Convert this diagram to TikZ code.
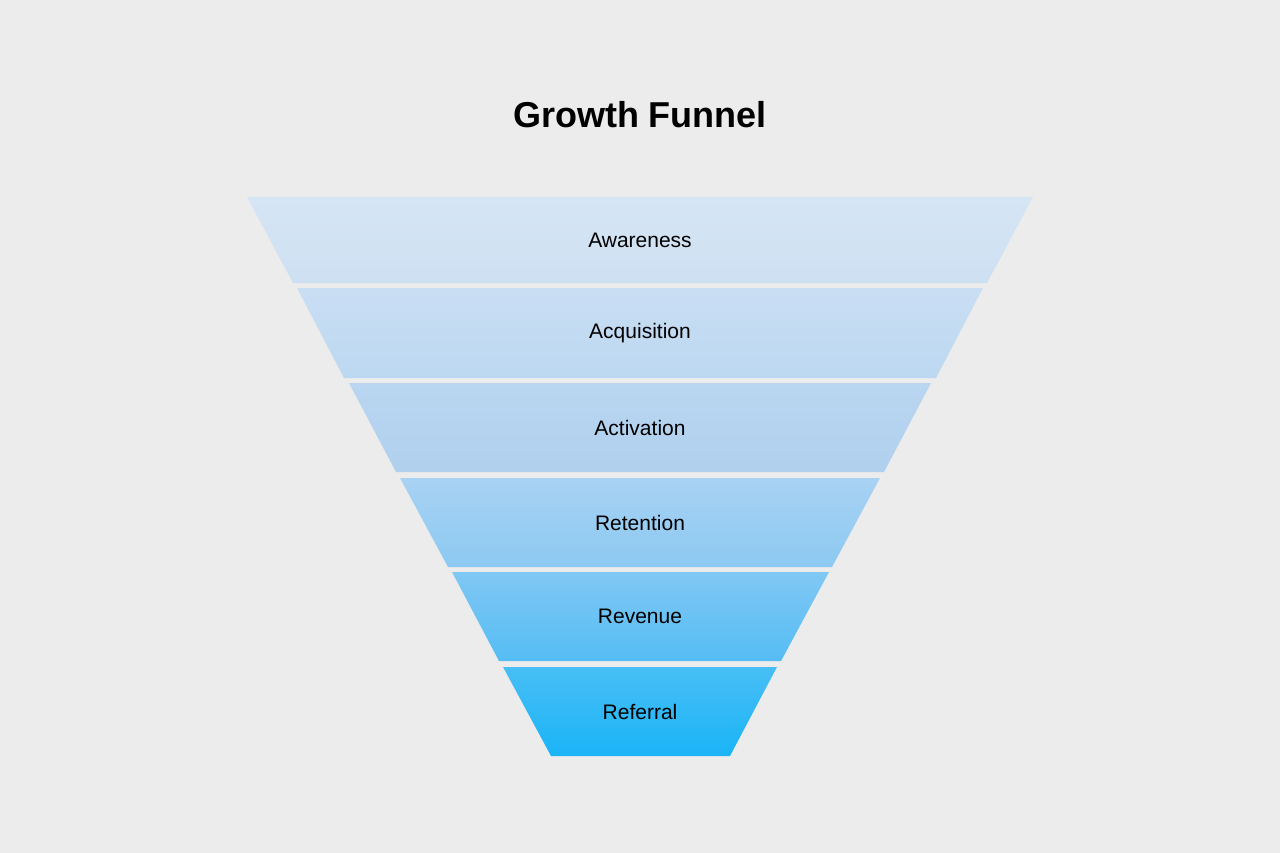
\documentclass[tikz,border=0pt]{standalone}
\usepackage{fontspec}
\setmainfont{Liberation Sans}
\begin{document}
\begin{tikzpicture}[x=1pt,y=-1pt,
  lbl/.style={font=\fontsize{21}{24}\selectfont, text=black}]
\fill[fill={rgb,255:red,236;green,236;blue,236}] (0,0) rectangle (1280,853);
\useasboundingbox (0,0) rectangle (1280,853);
\node[font=\fontsize{36}{40}\selectfont\bfseries] (title) at (640,115) {Growth Funnel};
\def\layer#1#2#3#4#5#6#7#8#9{%
  \definecolor{ct}{HTML}{#7}\definecolor{cb}{HTML}{#8}%
  \shade[top color=ct,bottom color=cb] (#3,#1) -- (#5,#1) -- (#6,#2) -- (#4,#2) -- cycle;
  \node[lbl] (#9) at (640,{(#1+#2)/2}) {#9};}
\layer{197}{283}{247}{293}{1033}{987}{D6E5F4}{CDE0F2}{Awareness}
\layer{288}{378}{297}{344}{983}{936}{C9DEF3}{BCD8F1}{Acquisition}
\layer{383}{472}{349}{396}{931}{884}{BAD6F1}{AFD0EE}{Activation}
\layer{478}{567}{400}{448}{880}{832}{A8D2F3}{8CC9F2}{Retention}
\layer{572}{661}{452}{499}{829}{781}{80C7F4}{55BDF4}{Revenue}
\layer{667}{756}{503}{551}{777}{730}{48BEF5}{1AB4F7}{Referral}
\end{tikzpicture}
\end{document}
